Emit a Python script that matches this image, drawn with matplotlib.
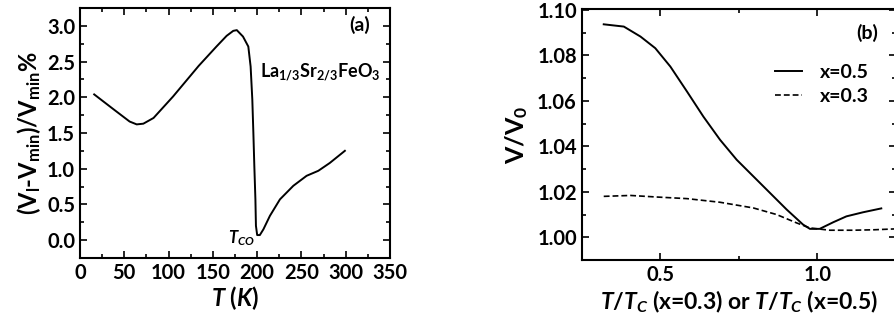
import numpy as np
import matplotlib
matplotlib.use('Agg')
import matplotlib.pyplot as plt
from matplotlib.ticker import MultipleLocator, FormatStrFormatter

plt.rcParams['font.family'] = ['Lato', 'DejaVu Sans']
plt.rcParams['font.weight'] = 'bold'
plt.rcParams['axes.labelweight'] = 'bold'
plt.rcParams['mathtext.fontset'] = 'custom'
plt.rcParams['mathtext.rm'] = 'Lato:bold'
plt.rcParams['mathtext.it'] = 'Lato:bold:italic'
plt.rcParams['mathtext.bf'] = 'Lato:bold'

# panel (a): La1/3Sr2/3FeO3 volume change vs temperature
T_a = [16, 38, 56, 64, 71.5, 83, 105, 134, 154, 165.5, 173, 177, 184, 190,
       192.6, 194.5, 195.7, 196.8, 198, 198.6, 200, 203, 207, 214.4, 225.7,
       240.8, 255.8, 269, 282, 299]
dv_a = [2.04, 1.83, 1.66, 1.62, 1.63, 1.71, 2.01, 2.44, 2.71, 2.86, 2.93, 2.94,
        2.85, 2.71, 2.43, 1.97, 1.50, 1.03, 0.57, 0.20, 0.07, 0.07, 0.15, 0.34,
        0.57, 0.76, 0.90, 0.97, 1.08, 1.25]

# panel (b): V/V0 vs reduced temperature
t_05 = [0.32, 0.384, 0.437, 0.484, 0.532, 0.585, 0.637, 0.690, 0.743, 0.796,
        0.849, 0.902, 0.954, 0.976, 1.007, 1.05, 1.092, 1.145, 1.203]
v_05 = [1.0937, 1.0927, 1.0883, 1.0832, 1.0751, 1.0641, 1.0531, 1.0429, 1.0341,
        1.0268, 1.0195, 1.0122, 1.0056, 1.0037, 1.0037, 1.0066, 1.0092, 1.0110, 1.0127]
t_03 = [0.32, 0.405, 0.49, 0.585, 0.69, 0.796, 0.87, 0.934, 0.976, 1.039,
        1.113, 1.18, 1.25]
v_03 = [1.0180, 1.0184, 1.0177, 1.0170, 1.0154, 1.0129, 1.0100, 1.0063, 1.0041,
        1.0031, 1.0031, 1.0033, 1.0037]

fig = plt.figure(figsize=(8.94, 3.2), dpi=100)
ax1 = fig.add_axes([0.0895, 0.194, 0.3468, 0.781])
ax2 = fig.add_axes([0.6507, 0.1875, 0.3516, 0.7834])


def style(ax):
    for s in ax.spines.values():
        s.set_linewidth(1.5)
    ax.tick_params(which='both', direction='in', top=True, right=True,
                   labelsize=14.5, width=1.2)
    ax.tick_params(which='major', length=5)
    ax.tick_params(which='minor', length=3)


ax1.plot(T_a, dv_a, color='black', lw=1.4)
ax1.set_xlim(0, 350)
ax1.set_ylim(-0.25, 3.25)
ax1.xaxis.set_major_locator(MultipleLocator(50))
ax1.xaxis.set_minor_locator(MultipleLocator(25))
ax1.yaxis.set_major_locator(MultipleLocator(0.5))
ax1.yaxis.set_minor_locator(MultipleLocator(0.25))
ax1.yaxis.set_major_formatter(FormatStrFormatter('%.1f'))
style(ax1)
ax1.set_xlabel(r'$T$ ($K$)', fontsize=17, labelpad=1)
ax1.set_ylabel(r'(V$_\mathrm{l}$-V$_\mathrm{min}$)/V$_\mathrm{min}$%', fontsize=17, labelpad=3)
ax1.text(0.903, 0.932, '(a)', transform=ax1.transAxes, fontsize=14,
         fontweight='bold', ha='center', va='center')
ax1.text(0.774, 0.744, r'La$_\mathrm{1/3}$Sr$_\mathrm{2/3}$FeO$_\mathrm{3}$',
         transform=ax1.transAxes, fontsize=13, fontweight='bold',
         ha='center', va='center')
ax1.text(198, 0.02, r'$T_{CO}$', fontsize=12, ha='right', va='center')

ax2.plot(t_05, v_05, color='black', lw=1.4, label='x=0.5')
ax2.plot(t_03, v_03, color='black', lw=1.2, ls=(0, (3.5, 1.8)), label='x=0.3')
ax2.set_xlim(0.25, 1.25)
ax2.set_ylim(0.99, 1.1003)
ax2.xaxis.set_major_locator(MultipleLocator(0.5))
ax2.xaxis.set_minor_locator(MultipleLocator(0.25))
ax2.yaxis.set_major_locator(MultipleLocator(0.02))
ax2.yaxis.set_minor_locator(MultipleLocator(0.01))
ax2.yaxis.set_major_formatter(FormatStrFormatter('%.2f'))
ax2.xaxis.set_major_formatter(FormatStrFormatter('%.1f'))
style(ax2)
ax2.set_xlabel(r'$T/T_C$ (x=0.3) or $T/T_C$ (x=0.5)', fontsize=16.5, labelpad=3)
ax2.set_ylabel(r'V/V$_\mathrm{0}$', fontsize=18, labelpad=5)
ax2.text(0.907, 0.904, '(b)', transform=ax2.transAxes, fontsize=14,
         fontweight='bold', ha='center', va='center')
leg = ax2.legend(loc='center left', bbox_to_anchor=(0.56, 0.70), frameon=False,
                 fontsize=14, handlelength=1.4, handletextpad=0.9, labelspacing=0.35)
for t in leg.get_texts():
    t.set_fontweight('bold')

fig.canvas.draw()
for ax in (ax1, ax2):
    plt.setp(ax.get_xticklabels() + ax.get_yticklabels(), fontweight='bold')

fig.savefig('out.png', dpi=100)
